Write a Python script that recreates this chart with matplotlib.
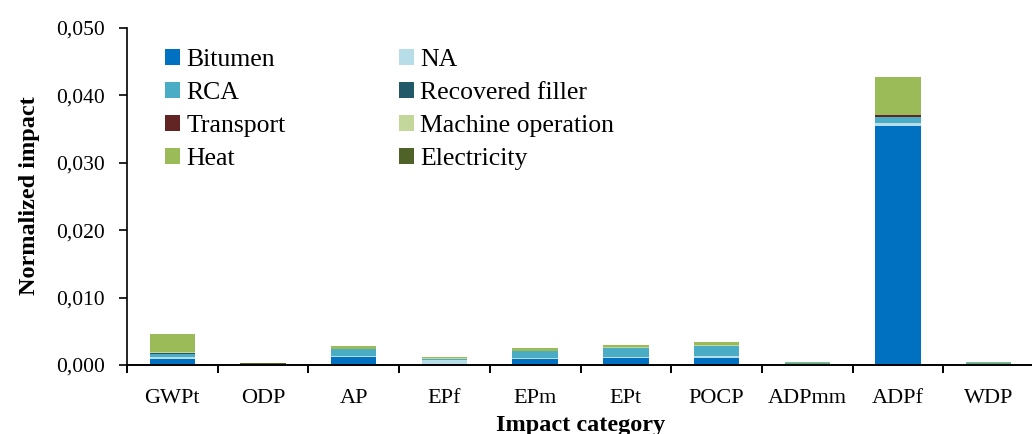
import matplotlib
matplotlib.use("Agg")
import matplotlib.pyplot as plt
from matplotlib.patches import Patch
from matplotlib.ticker import FuncFormatter, FixedLocator
import numpy as np

plt.rcParams['font.family'] = ['Liberation Serif', 'DejaVu Serif']

categories = ["GWPt", "ODP", "AP", "EPf", "EPm", "EPt", "POCP", "ADPmm", "ADPf", "WDP"]

bitumen = [0.00090, 0.00002, 0.00120, 0.00010, 0.00090, 0.00110, 0.00110, 0.00010, 0.03540, 0.00010]
na = [0.00030, 0.00001, 0.00015, 0.00070, 0.00010, 0.00010, 0.00020, 0.00005, 0.00050, 0.00010]
rca = [0.00050, 0.00001, 0.00095, 0.00015, 0.00105, 0.00130, 0.00150, 0.00008, 0.00090, 0.00008]
recovered_filler = [0.00003, 0.00000, 0.00002, 0.00001, 0.00002, 0.00002, 0.00002, 0.00001, 0.00005, 0.00001]
transport = [0.00008, 0.00001, 0.00005, 0.00000, 0.00004, 0.00004, 0.00005, 0.00001, 0.00020, 0.00001]
machine_operation = [0.00006, 0.00001, 0.00004, 0.00002, 0.00004, 0.00004, 0.00005, 0.00004, 0.00008, 0.00004]
heat = [0.00270, 0.00003, 0.00040, 0.00022, 0.00030, 0.00040, 0.00055, 0.00014, 0.00560, 0.00012]
electricity = [0.00000, 0.00015, 0.00000, 0.00000, 0.00000, 0.00000, 0.00000, 0.00000, 0.00003, 0.00000]

series = [
    ("Bitumen", bitumen, "#0070C0"),
    ("NA", na, "#B7DDE8"),
    ("RCA", rca, "#4BACC6"),
    ("Recovered filler", recovered_filler, "#215968"),
    ("Transport", transport, "#632523"),
    ("Machine operation", machine_operation, "#C4D79B"),
    ("Heat", heat, "#9BBB59"),
    ("Electricity", electricity, "#4F6228"),
]

W, H = 1032, 434
fig = plt.figure(figsize=(W / 100, H / 100), dpi=100)
ax = fig.add_axes([127 / W, 1 - 365 / H, 907 / W, 337 / H])

x = np.arange(len(categories))
bottom = np.zeros(len(categories))
handles = {}
for name, vals, color in series:
    vals = np.array(vals)
    ax.bar(x, vals, width=0.5, bottom=bottom, color=color, linewidth=0, zorder=2)
    bottom += vals
    handles[name] = Patch(facecolor=color, edgecolor='none', label=name)

ax.set_xlim(-0.5, len(categories) - 0.5)
ax.set_ylim(0, 0.05)
ax.set_yticks([0, 0.01, 0.02, 0.03, 0.04, 0.05])
ax.yaxis.set_major_formatter(FuncFormatter(lambda v, p: f"{v:.3f}".replace(".", ",")))

ax.set_xticks(x)
ax.set_xticklabels(categories)
ax.xaxis.set_minor_locator(FixedLocator(np.arange(-0.5, len(categories), 1.0)))

for side in ("top", "right"):
    ax.spines[side].set_visible(False)
ax.spines["left"].set_linewidth(1.2)
ax.spines["bottom"].set_linewidth(1.4)
ax.spines["left"].set_color("black")
ax.spines["bottom"].set_color("black")

ax.tick_params(axis="y", direction="out", length=6, width=1.2, pad=10, labelsize=15.5)
ax.tick_params(axis="x", which="major", length=0, pad=17, labelsize=16)
ax.tick_params(axis="x", which="minor", direction="out", length=5.5, width=1.4)

fig.text(30 / W, 1 - 196 / H, "Normalized impact", rotation=90, ha="center", va="center",
         fontsize=17.5, fontweight="bold")
fig.text(581 / W, 1 - 431 / H, "Impact category", ha="center", va="baseline",
         fontsize=17.5, fontweight="bold")

col1 = [handles[n] for n in ("Bitumen", "RCA", "Transport", "Heat")]
col2 = [handles[n] for n in ("NA", "Recovered filler", "Machine operation", "Electricity")]
leg_kw = dict(frameon=False, fontsize=18.5, handlelength=0.58, handleheight=0.58,
              handletextpad=0.25, labelspacing=0.42, borderpad=0, borderaxespad=0,
              loc="upper left")
leg1 = ax.legend(handles=col1, bbox_to_anchor=(165 / W, 1 - 49 / H),
                 bbox_transform=fig.transFigure, **leg_kw)
ax.add_artist(leg1)
ax.legend(handles=col2, bbox_to_anchor=(399 / W, 1 - 49 / H),
          bbox_transform=fig.transFigure, **leg_kw)

fig.savefig("out.png", dpi=100)
